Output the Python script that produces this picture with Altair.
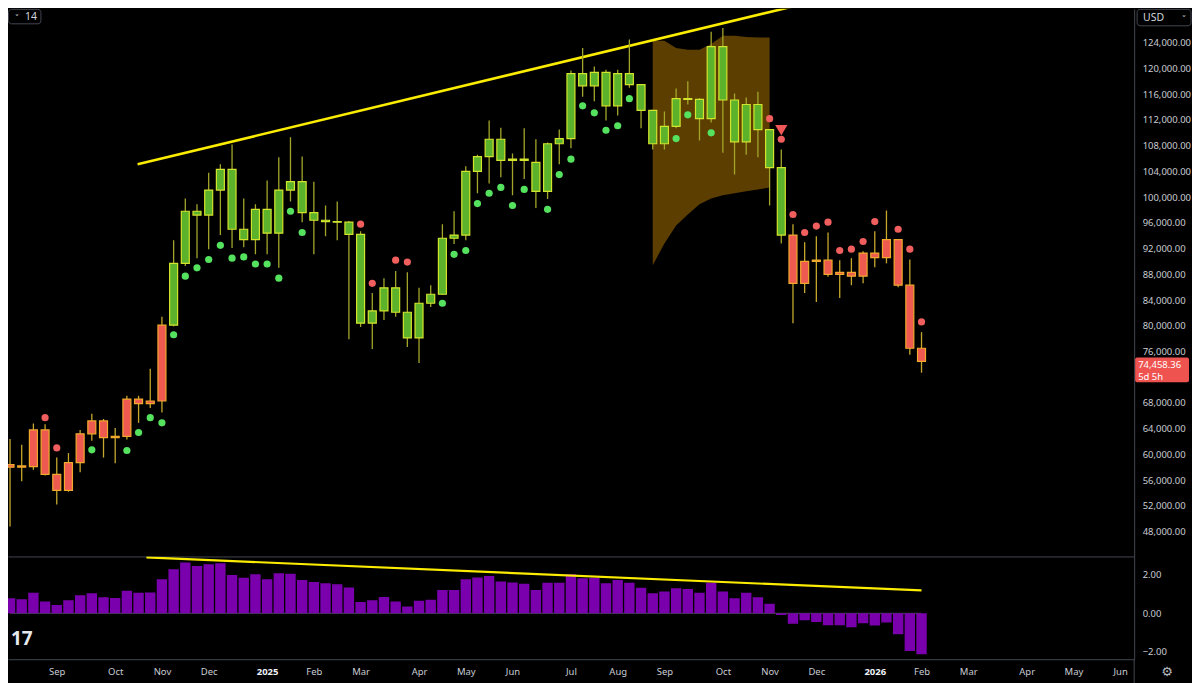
import altair as alt
import pandas as pd
from datetime import datetime, timedelta, timezone

# ---------------- data (weekly BTC/USD candles) ----------------
FIRST_WEEK = "2024-08-05"
opens = [58000, 58200, 58100, 63800, 56900, 54400, 58700, 63200, 65200, 62600,
         62800, 68600, 67900, 68300, 80100, 89700, 97800, 97200, 101100, 104300,
         95000, 93400, 98100, 94400, 101100, 102400, 97600, 96400, 96200, 96100,
         94200, 80400, 82300, 85900, 82100, 78100, 83500, 84900, 93600, 94100,
         104000, 106300, 109000, 105700, 105900, 105400, 100900, 108300, 109100, 119200,
         117300, 119400, 114200, 119200, 117500, 113500, 108300, 111000, 115300, 115200,
         112200, 123400, 115100, 108600, 114400, 110500, 104600, 94100, 86600, 90000,
         90200, 88000, 88300, 87700, 91300, 90600, 93400, 86300, 76500]
highs = [62400, 61500, 64800, 64700, 59500, 60200, 63800, 66300, 65500, 64100,
         69100, 69100, 73300, 81400, 93300, 99800, 98900, 103800, 105100, 108200,
         99800, 98900, 102600, 106200, 109300, 106300, 102400, 98700, 99300, 96300,
         94700, 85100, 87400, 88500, 88300, 85900, 86300, 95800, 97800, 104800,
         106600, 111900, 110800, 106800, 110700, 109000, 108500, 110500, 119700, 123200,
         120300, 119800, 119800, 124500, 117600, 113600, 113300, 116900, 118000, 115400,
         125700, 126300, 116100, 115500, 116400, 110600, 107400, 95800, 93000, 93900,
         94500, 90200, 90500, 91600, 94700, 97900, 93500, 90300, 79000]
lows = [48800, 55800, 57600, 56700, 52200, 54200, 57200, 62100, 59500, 58600,
        62300, 64900, 67200, 66500, 79900, 89300, 90500, 91900, 94100, 92100,
        92200, 91100, 91100, 89000, 99300, 96100, 91100, 93900, 93300, 77900,
        79800, 76400, 80900, 81400, 76700, 74200, 82900, 84800, 92700, 93300,
        100600, 102100, 103100, 100300, 102800, 98300, 99700, 105100, 107600, 115600,
        114900, 111900, 112700, 117000, 110700, 107400, 107400, 110700, 114400, 108800,
        111600, 106900, 103500, 106600, 106200, 98700, 92800, 80400, 85100, 83700,
        87600, 84300, 86300, 86600, 89100, 89700, 86000, 75500, 72700]
closes = [58400, 58000, 63800, 56900, 54400, 58700, 63200, 65200, 62600, 62800,
          68600, 67900, 68300, 80100, 89700, 97800, 97200, 101100, 104300, 95000,
          93400, 98100, 94400, 101100, 102400, 97600, 96400, 96200, 96100, 94200,
          80400, 82300, 85900, 82100, 78100, 83500, 84900, 93600, 94100, 104000,
          106300, 109000, 105700, 105900, 105700, 100900, 108300, 109100, 119200, 117300,
          119400, 114200, 119200, 117500, 113500, 108300, 111000, 115300, 115200, 112200,
          123400, 115100, 108600, 114400, 110500, 104600, 94100, 86600, 90000, 90200,
          88000, 88300, 87700, 91300, 90600, 93400, 86300, 76500, 74458.36]
# candle colouring state: r = red regime, g = green regime
trend = list("r" * 14 + "g" * 53 + "r" * 12)
# lower pane histogram
osc = [0.78, 0.73, 1.07, 0.61, 0.43, 0.68, 0.94, 1.04, 0.83, 0.80,
       1.18, 1.07, 1.09, 1.78, 2.30, 2.65, 2.46, 2.56, 2.61, 1.99,
       1.85, 2.04, 1.77, 2.08, 2.06, 1.73, 1.63, 1.56, 1.51, 1.35,
       0.59, 0.68, 0.85, 0.61, 0.36, 0.66, 0.71, 1.21, 1.21, 1.78,
       1.87, 1.94, 1.66, 1.61, 1.54, 1.21, 1.59, 1.59, 2.03, 1.82,
       1.85, 1.56, 1.73, 1.59, 1.33, 1.04, 1.14, 1.30, 1.26, 1.07,
       1.59, 1.14, 0.78, 1.07, 0.83, 0.50, -0.09, -0.54, -0.36, -0.45,
       -0.62, -0.62, -0.73, -0.52, -0.64, -0.48, -1.09, -1.96, -2.13]
# trailing-stop dots
dot_weeks = [3, 4, 7, 10, 11, 12, 13, 14, 15, 16, 17, 18, 19, 20, 21, 22, 23, 24, 25,
             30, 31, 33, 34, 37, 38, 39, 40, 41, 42, 43, 44, 46, 47, 48, 49, 50, 51, 52, 53,
             57, 58, 60, 65, 66, 67, 68, 69, 70, 71, 72, 73, 74, 76, 77, 78]
dot_prices = [65700, 61000, 60700, 60600, 63400, 65700, 64900, 78600, 87700, 89000, 90300,
              92500, 90500, 90700, 89600, 89600, 87400, 97800, 94500,
              95800, 86600, 90200, 89900, 83500, 91100, 91700, 99000, 100600, 101500, 98700,
              101200, 98100, 103500, 105900, 114200, 113100, 110400, 111100, 115300,
              109100, 112800, 110000, 112200, 109000, 97300, 94500, 95500, 96100, 91700,
              91900, 93100, 96200, 95000, 91900, 80600]
dot_kinds = list("rrggggggggggggggggg" + "rrrr" + "gggggggggggggggg" + "ggg" + "rrrrrrrrrrrrr")
# sell signal
signal_week = 66
signal_price = 110400
# shaded band
band_weeks = [55, 56, 57, 58, 59, 60, 61, 62, 63, 64, 65]
band_top = [124300, 124300, 123200, 122900, 122900, 123800, 125100, 125100, 124900, 124800, 124800]
band_bot = [89400, 92800, 95600, 97300, 98900, 99800, 100300, 100600, 100900, 101200, 101500]
# trend lines
upper_line_dates = ["2024-10-20T10:00:00Z", "2025-11-25T22:00:00Z"]
upper_line_prices = [105100, 130200]
lower_line_dates = ["2024-10-25T17:00:00Z", "2026-02-02T00:00:00Z"]
lower_line_vals = [2.91, 1.19]
# axis ticks (72,000 sits under the last-price tag)
price_ticks = [48000, 52000, 56000, 60000, 64000, 68000, 76000, 80000, 84000,
               88000, 92000, 96000, 100000, 104000, 108000, 112000, 116000, 120000, 124000]
osc_ticks = [-2, 0, 2]
month_ticks = ["2024-09-02", "2024-10-07", "2024-11-04", "2024-12-02", "2025-01-06", "2025-02-03",
               "2025-03-03", "2025-04-07", "2025-05-05", "2025-06-02", "2025-07-07", "2025-08-04",
               "2025-09-01", "2025-10-06", "2025-11-03", "2025-12-01", "2026-01-05", "2026-02-02",
               "2026-03-02", "2026-04-06", "2026-05-04", "2026-06-01"]
last_price_text = "74,458.36"
countdown_text = "5d 5h"

# ---------------- build tables ----------------
UTC = timezone.utc
base = datetime.strptime(FIRST_WEEK, "%Y-%m-%d").replace(tzinfo=UTC)
weeks = [(base + timedelta(weeks=i)).strftime("%Y-%m-%d") for i in range(len(closes))]


def ms(dt):
    return int(dt.timestamp() * 1000)


tick_ms = [ms(datetime.strptime(s, "%Y-%m-%d").replace(tzinfo=UTC)) for s in month_ticks]
x_domain = [ms(base + timedelta(days=1.777)), ms(base + timedelta(days=670.38))]

candles = pd.DataFrame({"d": weeks, "o": opens, "h": highs, "l": lows, "c": closes,
                        "t": trend, "m": osc})
dots = pd.DataFrame({"d": [weeks[i] for i in dot_weeks], "p": dot_prices, "k": dot_kinds})
band = pd.DataFrame({"d": [weeks[i] for i in band_weeks], "top": band_top, "bot": band_bot})
upper = pd.DataFrame({"d": upper_line_dates, "p": upper_line_prices})
lower = pd.DataFrame({"d": lower_line_dates, "v": lower_line_vals})
signal = pd.DataFrame({"d": [weeks[signal_week]], "p": [signal_price]})
tag = pd.DataFrame({"p": [closes[-1]]})
zero = pd.DataFrame({"d0": [weeks[0]], "d1": [weeks[-1]], "z": [0]})
one = pd.DataFrame({"k": [0]})

# ---------------- styling ----------------
BG = "#000000"
GRID = "#434651"
LABEL = "#c9ccd4"
FONT = "Noto Sans"
GREEN_FILL, GREEN_EDGE = "#5db22b", "#d3e42c"
RED_FILL, RED_EDGE = "#ee5a50", "#f0a92c"
WICK_G, WICK_R = "#a3a62b", "#c6a82d"
DOT_G, DOT_R = "#55e35f", "#f05e5e"
YELLOW = "#fbec00"
BAND = "#5b3e00"
PURPLE = "#7b00ad"

MAIN_W, MAIN_H, LOW_H = 1129, 549, 103

XS = alt.Scale(type="utc", domain=x_domain, nice=False)
YS = alt.Scale(domain=[44123, 129273], nice=False, zero=False)
YS2 = alt.Scale(domain=[-2.39, 2.96], nice=False, zero=False)

XAX_MAIN = alt.Axis(labels=False, ticks=False, grid=False, domain=True, domainColor=GRID,
                    domainWidth=1, title=None)
YAX = alt.Axis(orient="right", values=price_ticks, format=",.2f", grid=False, ticks=False,
               domain=True, domainColor=GRID, labelPadding=8, labelColor=LABEL,
               labelFlush=False, labelOverlap=False, title=None)
month_test = "utcmonth(datum.value) === 0"
XAX_LOW = alt.Axis(values=tick_ms, grid=False, ticks=False, domain=True, domainColor=GRID,
                   labelPadding=7, labelFlush=False, labelOverlap=False, title=None,
                   labelExpr="utcmonth(datum.value) === 0 ? utcFormat(datum.value, '%Y') : utcFormat(datum.value, '%b')",
                   labelFontWeight={"condition": {"test": month_test, "value": "bold"}, "value": "normal"},
                   labelColor={"condition": {"test": month_test, "value": "#f0f3fa"}, "value": LABEL})
YAX2 = alt.Axis(orient="right", values=osc_ticks, format=".2f", grid=False, ticks=False,
                domain=True, domainColor=GRID, labelPadding=8, labelColor=LABEL,
                labelFlush=False, labelOverlap=False, title=None)

X = alt.X("d:T", scale=XS, axis=XAX_MAIN)
is_g = "datum.t == 'g'"

# ---------------- main pane ----------------
band_layer = alt.Chart(band).mark_area(color=BAND, opacity=1, clip=True).encode(
    x=X, y=alt.Y("top:Q", scale=YS, axis=YAX), y2="bot:Q")

upper_line = alt.Chart(upper).mark_line(color=YELLOW, strokeWidth=2.6, clip=True).encode(
    x=X, y=alt.Y("p:Q", scale=YS, axis=YAX))

wicks = alt.Chart(candles).mark_rule(strokeWidth=1.3, clip=True).encode(
    x=X, y=alt.Y("l:Q", scale=YS, axis=YAX), y2="h:Q",
    color=alt.condition(is_g, alt.value(WICK_G), alt.value(WICK_R)))

bodies = alt.Chart(candles).mark_bar(width=8, strokeWidth=1.2, clip=True).encode(
    x=X, y=alt.Y("o:Q", scale=YS, axis=YAX), y2="c:Q",
    color=alt.condition(is_g, alt.value(GREEN_FILL), alt.value(RED_FILL)),
    stroke=alt.condition(is_g, alt.value(GREEN_EDGE), alt.value(RED_EDGE)))

dot_layer = alt.Chart(dots).mark_circle(size=52, opacity=1, clip=True).encode(
    x=X, y=alt.Y("p:Q", scale=YS, axis=YAX),
    color=alt.condition("datum.k == 'g'", alt.value(DOT_G), alt.value(DOT_R)))

signal_layer = alt.Chart(signal).mark_point(shape="triangle-down", filled=True, size=150,
                                             color="#f25757", opacity=1, clip=True).encode(
    x=X, y=alt.Y("p:Q", scale=YS, axis=YAX))

tag_box = alt.Chart(tag).mark_rect(color="#ef5350", yOffset=-4, y2Offset=21,
                                   cornerRadius=2).encode(
    x=alt.value(1130), x2=alt.value(1184),
    y=alt.Y("p:Q", scale=YS, axis=YAX), y2="p:Q")
tag_price = alt.Chart(tag).mark_text(align="left", baseline="middle", color="#ffffff",
                                     fontSize=9.5, font=FONT, dy=3.5).encode(
    x=alt.value(1133), y=alt.Y("p:Q", scale=YS, axis=YAX), text=alt.value(last_price_text))
tag_timer = alt.Chart(tag).mark_text(align="left", baseline="middle", color="#ffffff",
                                     fontSize=9.5, font=FONT, dy=15.5).encode(
    x=alt.value(1133), y=alt.Y("p:Q", scale=YS, axis=YAX), text=alt.value(countdown_text))

usd_box = alt.Chart(one).mark_rect(fill=BG, stroke=GRID, strokeWidth=1, cornerRadius=3).encode(
    x=alt.value(1132), x2=alt.value(1186), y=alt.value(0.5), y2=alt.value(17))
usd_text = alt.Chart(one).mark_text(align="left", baseline="middle", color="#d1d4dc",
                                    fontSize=10.5, font=FONT).encode(
    x=alt.value(1138), y=alt.value(9), text=alt.value("USD"))
usd_chev = alt.Chart(one).mark_text(align="center", baseline="middle", color="#d1d4dc",
                                    fontSize=9, font="DejaVu Sans").encode(
    x=alt.value(1179), y=alt.value(10), text=alt.value("˅"))
len_box = alt.Chart(one).mark_rect(fill=BG, stroke=GRID, strokeWidth=1, cornerRadius=3).encode(
    x=alt.value(0.5), x2=alt.value(33), y=alt.value(0.5), y2=alt.value(15))
len_text = alt.Chart(one).mark_text(align="left", baseline="middle", color="#d1d4dc",
                                    fontSize=10.5, font=FONT).encode(
    x=alt.value(17), y=alt.value(8), text=alt.value("14"))
len_chev = alt.Chart(one).mark_text(align="center", baseline="middle", color="#d1d4dc",
                                    fontSize=9, font="DejaVu Sans").encode(
    x=alt.value(9), y=alt.value(9), text=alt.value("˅"))

main = alt.layer(band_layer, upper_line, wicks, bodies, dot_layer, signal_layer,
                 tag_box, tag_price, tag_timer, usd_box, usd_text, usd_chev,
                 len_box, len_text, len_chev).properties(width=MAIN_W, height=MAIN_H)

# ---------------- lower pane ----------------
XL = alt.X("d:T", scale=XS, axis=XAX_LOW)
zero_rule = alt.Chart(zero).mark_rule(color="#4a4e58", strokeWidth=1, clip=True).encode(
    x=alt.X("d0:T", scale=XS, axis=XAX_LOW), x2="d1:T",
    y=alt.Y("z:Q", scale=YS2, axis=YAX2))
hist = alt.Chart(candles).mark_bar(width=10.4, color=PURPLE, clip=True).encode(
    x=XL, y=alt.Y("m:Q", scale=YS2, axis=YAX2))
lower_line = alt.Chart(lower).mark_line(color=YELLOW, strokeWidth=2.2, clip=True).encode(
    x=XL, y=alt.Y("v:Q", scale=YS2, axis=YAX2))
axis_ext = alt.Chart(one).mark_rule(color=GRID, strokeWidth=1).encode(
    x=alt.value(MAIN_W), y=alt.value(LOW_H), y2=alt.value(LOW_H + 24))
gear = alt.Chart(one).mark_text(align="center", baseline="middle", color="#b2b5be",
                                fontSize=13, font="DejaVu Sans").encode(
    x=alt.value(1162), y=alt.value(LOW_H + 13), text=alt.value("⚙"))
logo = alt.Chart(one).mark_text(align="left", baseline="middle", color="#e6e9f0",
                                fontSize=19, font=FONT, fontWeight="bold").encode(
    x=alt.value(3), y=alt.value(LOW_H - 20), text=alt.value("17"))

low = alt.layer(zero_rule, hist, lower_line, axis_ext, gear, logo).properties(
    width=MAIN_W, height=LOW_H)

chart = alt.vconcat(main, low, spacing=0).properties(
    padding=0, background=BG
).configure_view(stroke=None).configure_axis(
    labelFont=FONT, labelFontSize=9.5)

chart.save("out.html", embed_options={"renderer": "svg", "actions": False})
